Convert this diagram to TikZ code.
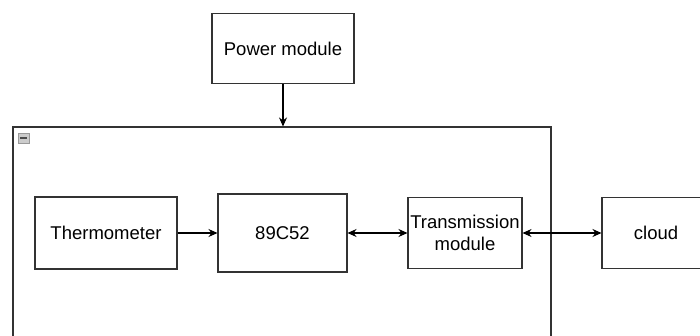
\documentclass[tikz,border=0pt]{standalone}
\usepackage{fontspec}
\setmainfont{Liberation Sans}
\usetikzlibrary{arrows.meta}
\begin{document}
\begin{tikzpicture}[x=1pt,y=-1pt,
  box/.style={draw=black!80, line width=1.1pt, fill=white, inner sep=0pt, align=center,
    font=\fontsize{18.5}{22}\selectfont},
  conn/.style={line width=1.1pt, draw=black},
  onehead/.style={conn, -{Stealth[length=9pt,width=8pt]}},
  twohead/.style={conn, {Stealth[length=9pt,width=8pt]}-{Stealth[length=9pt,width=8pt]}}]
\useasboundingbox (0,0) rectangle (700,336);
\clip (0,0) rectangle (700,336);
\fill[white] (0,0) rectangle (700,336);
% container
\node[draw=black!80, line width=1.1pt, minimum width=538pt, minimum height=240pt, inner sep=0pt] (cont) at (282,247) {};
\node[draw=gray!80, fill=gray!40, minimum width=11pt, minimum height=10pt, inner sep=0pt] (minus) at (23.5,138) {};
\draw[line width=1.5pt, black!70] ([xshift=2pt]minus.west) -- ([xshift=-2pt]minus.east);
% boxes
\node[box, minimum width=142pt, minimum height=70pt] (power) at (283,48.5) {Power module};
\node[box, minimum width=142pt, minimum height=72pt] (thermo) at (106,233) {Thermometer};
\node[box, minimum width=129pt, minimum height=78pt] (mcu) at (282.5,233) {89C52};
\node[box, minimum width=114pt, minimum height=71pt] (trans) at (465,233) {Transmission\\module};
\node[box, minimum width=108pt, minimum height=71pt] (cloud) at (656,233) {cloud};
% connectors
\draw[onehead] (power.south) -- (power.south |- cont.north);
\draw[onehead] (thermo.east) -- (mcu.west |- thermo.east);
\draw[twohead] (mcu.east) -- (trans.west |- mcu.east);
\draw[twohead] (trans.east) -- (cloud.west |- trans.east);
\end{tikzpicture}
\end{document}
